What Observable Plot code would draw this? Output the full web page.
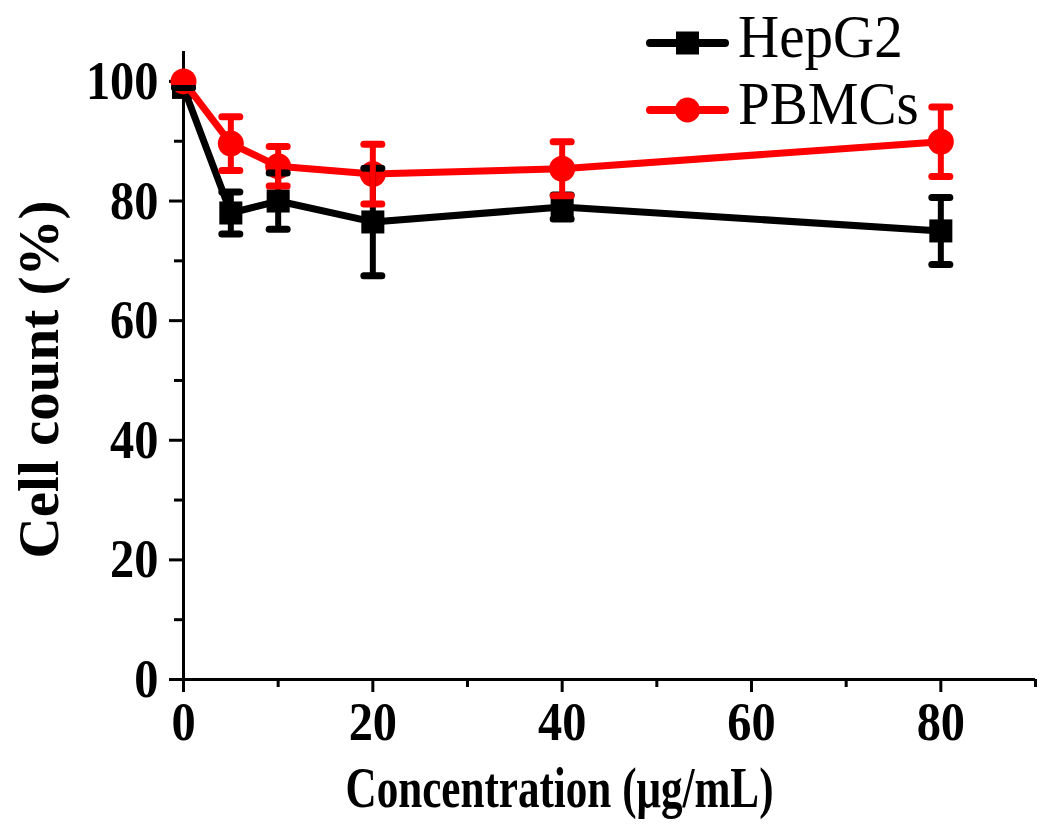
<!DOCTYPE html>
<html>
<head>
<meta charset="utf-8">
<script src="https://cdn.jsdelivr.net/npm/d3@7"></script>
<script src="https://cdn.jsdelivr.net/npm/@observablehq/plot@0.6"></script>
<style>
  body { margin: 0; background: #fff; }
  #wrap { position: relative; width: 1050px; height: 835px; }
  #legend { position: absolute; left: 645px; top: 9px; font-family: "Liberation Serif", "Times New Roman", serif; font-size: 62px; color: #000; }
  .row { position: relative; height: 67px; }
  .row svg { position: absolute; left: 0; top: 19px; }
  .row span { position: absolute; left: 93px; top: -6px; line-height: 67px; white-space: nowrap; transform: scaleX(0.92); transform-origin: left center; }
</style>
</head>
<body>
<div id="wrap"><div id="legend"></div></div>
<script>
// ---- data ----
const concentrations = [0, 5, 10, 20, 40, 80];
const hepg2Values = [99, 78, 80, 76.5, 79, 75];
const hepg2Errors = [0, 3.5, 4.7, 9, 2, 5.6];
const pbmcValues = [100, 89.6, 85.8, 84.5, 85.4, 89.9];
const pbmcErrors = [0, 4.5, 3.3, 5, 4.5, 5.8];
const seriesNames = ["HepG2", "PBMCs"];
const seriesColors = ["#000000", "#ff0000"];
const xMajorTicks = [0, 20, 40, 60, 80];
const xMinorTicks = [10, 30, 50, 70, 90];
const yMajorTicks = [0, 20, 40, 60, 80, 100];
const yMinorTicks = [10, 30, 50, 70, 90];
const xLabel = "Concentration (μg/mL)";
const yLabel = "Cell count (%)";

const rows = concentrations.map((c, i) => ({
  conc: c,
  hep: hepg2Values[i], hepErr: hepg2Errors[i],
  pbmc: pbmcValues[i], pbmcErr: pbmcErrors[i]
}));

const capSymbol = {
  draw(context, size) {
    const w = Math.sqrt(size / Math.PI);
    context.moveTo(-w, 0);
    context.lineTo(w, 0);
  }
};

function errorMarks(key, errKey, color) {
  return [
    Plot.ruleX(rows, {x: "conc", y1: d => d[key] - d[errKey], y2: d => d[key] + d[errKey], stroke: color, strokeWidth: 6}),
    Plot.dot(rows, {x: "conc", y: d => d[key] + d[errKey], symbol: capSymbol, r: 9, fill: "none", stroke: color, strokeWidth: 7, strokeLinecap: "round"}),
    Plot.dot(rows, {x: "conc", y: d => d[key] - d[errKey], symbol: capSymbol, r: 9, fill: "none", stroke: color, strokeWidth: 7, strokeLinecap: "round"})
  ];
}

const chart = Plot.plot({
  width: 1050,
  height: 835,
  marginLeft: 183,
  marginRight: 15,
  marginTop: 51,
  marginBottom: 156,
  style: {fontFamily: "'Liberation Serif', 'Times New Roman', serif", fontWeight: "bold", fontSize: "55px", color: "#000", background: "#fff"},
  x: {domain: [0, 90]},
  y: {domain: [0, 105]},
  marks: [
    Plot.axisX({ticks: xMajorTicks, tickSize: 13, tickPadding: 8, strokeWidth: 3, label: null}),
    Plot.axisX({ticks: xMinorTicks, tickSize: 8, strokeWidth: 3, tickFormat: () => "", label: null}),
    Plot.axisY({ticks: yMajorTicks, tickSize: 14, tickPadding: 11, strokeWidth: 3, label: null}),
    Plot.axisY({ticks: yMinorTicks, tickSize: 9, strokeWidth: 3, tickFormat: () => "", label: null}),
    Plot.ruleY([0], {stroke: "#000", strokeWidth: 3}),
    Plot.ruleX([0], {stroke: "#000", strokeWidth: 3}),
    Plot.line(rows, {x: "conc", y: "hep", stroke: seriesColors[0], strokeWidth: 7}),
    Plot.dot(rows, {x: "conc", y: "hep", symbol: "square", r: 13, fill: seriesColors[0], stroke: "none"}),
    Plot.line(rows, {x: "conc", y: "pbmc", stroke: seriesColors[1], strokeWidth: 7}),
    Plot.dot(rows, {x: "conc", y: "pbmc", symbol: "circle", r: 13, fill: seriesColors[1], stroke: "none"}),
    ...errorMarks("hep", "hepErr", seriesColors[0]),
    ...errorMarks("pbmc", "pbmcErr", seriesColors[1]),
    Plot.text([xLabel], {text: d => d, frameAnchor: "bottom", lineAnchor: "middle", textAnchor: "middle", dx: -50, dy: 110, fontSize: 56, fontWeight: "bold"}),
    Plot.text([yLabel], {text: d => d, frameAnchor: "left", lineAnchor: "middle", textAnchor: "middle", rotate: -90, dx: -144, dy: 14, fontSize: 57, fontWeight: "bold"})
  ]
});

document.getElementById("wrap").prepend(chart);

chart.querySelectorAll("text").forEach(t => {
  const s = t.textContent;
  let k = null;
  if (s === xLabel) k = 0.77;
  else if (/^\d+$/.test(s)) k = 0.88;
  if (k) t.setAttribute("transform", (t.getAttribute("transform") || "") + ` scale(${k},1)`);
});

// legend
const legend = document.getElementById("legend");
seriesNames.forEach((name, i) => {
  const row = document.createElement("div");
  row.className = "row";
  const symbol = i === 0
    ? `<rect x="31" y="3.5" width="23" height="23" fill="${seriesColors[i]}"/>`
    : `<circle cx="42.5" cy="15" r="12.5" fill="${seriesColors[i]}"/>`;
  row.innerHTML = `<svg width="86" height="30"><line x1="5" y1="15" x2="80" y2="15" stroke="${seriesColors[i]}" stroke-width="8" stroke-linecap="round"/>${symbol}</svg><span>${name}</span>`;
  legend.appendChild(row);
});
</script>
</body>
</html>
